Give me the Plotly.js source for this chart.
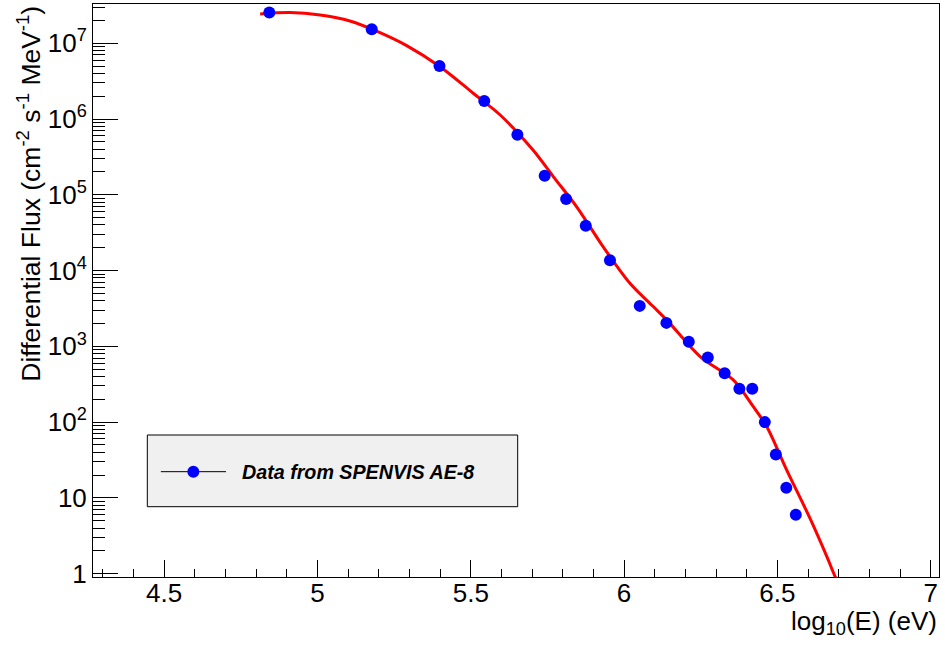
<!DOCTYPE html>
<html>
<head>
<meta charset="utf-8">
<script src="https://cdn.plot.ly/plotly-3.0.1.min.js"></script>
<style>
  html, body { margin: 0; padding: 0; background: #ffffff; }
  #chart { width: 945px; height: 646px; }
</style>
</head>
<body>
<div id="chart"></div>
<script>
// ---- Data ----
const logE = [4.843, 5.177, 5.398, 5.544, 5.652, 5.741, 5.811, 5.875, 5.954, 6.051,
              6.138, 6.211, 6.273, 6.328, 6.376, 6.418, 6.459, 6.495, 6.529, 6.560];
const flux = [2.54e7, 1.53e7, 5.0e6, 1.73e6, 6.2e5, 1.79e5, 8.8e4, 3.9e4, 1.37e4, 3.42e3,
              2.04e3, 1.15e3, 711, 443, 275, 275, 100, 37.4, 13.6, 6.0];

// fitted curve
const fitLogE = [4.813, 4.911, 5.009, 5.106, 5.204, 5.291, 5.400, 5.508, 5.596, 5.703,
                 5.769, 5.846, 5.932, 6.019, 6.095, 6.144, 6.248, 6.356, 6.421, 6.465,
                 6.530, 6.606, 6.661, 6.688, 6.700];
const fitFlux = [2.44e7, 2.54e7, 2.36e7, 1.97e7, 1.38e7, 9.3e6, 4.9e6, 2.19e6, 1.13e6, 3.9e5,
                 1.74e5, 6.9e4, 2.05e4, 6.8e3, 3.35e3, 2.12e3, 733, 361, 161, 87.5,
                 23.5, 5.4, 1.69, 0.92, 0.75];

const yTickVals = [1, 10, 100, 1e3, 1e4, 1e5, 1e6, 1e7];
const yTickText = ["1", "10", "10<sup>2</sup>", "10<sup>3</sup>", "10<sup>4</sup>",
                   "10<sup>5</sup>", "10<sup>6</sup>", "10<sup>7</sup>"];
const legendLabel = "Data from SPENVIS AE-8";

// minor tick positions (2..9 per decade)
const yMinor = [];
for (let k = 0; k <= 7; k++) for (let m = 2; m <= 9; m++) yMinor.push(m * Math.pow(10, k));

const FONT = "Liberation Sans, Arial, Helvetica, sans-serif";

const traces = [
  {
    x: fitLogE, y: fitFlux, type: "scatter", mode: "lines",
    line: { color: "#ff0000", width: 3, shape: "spline", smoothing: 0.9 },
    showlegend: false, hoverinfo: "skip"
  },
  {
    x: logE, y: flux, type: "scatter", mode: "markers",
    marker: { color: "#0000ff", size: 12 },
    name: legendLabel, showlegend: false
  }
];

// legend geometry (paper coords)
const lgX0 = 0.0642, lgX1 = 0.502, lgY0 = 0.1227, lgY1 = 0.2478, lgYm = 0.1838;

const layout = {
  width: 945, height: 646,
  margin: { l: 93, r: 6, t: 4, b: 69 },
  paper_bgcolor: "#ffffff", plot_bgcolor: "#ffffff",
  font: { family: FONT, color: "#000000" },
  showlegend: false,
  xaxis: {
    range: [4.268, 7.027],
    tick0: 4.5, dtick: 0.5,
    ticks: "inside", ticklen: 17, tickwidth: 1, tickcolor: "#000",
    minor: { ticks: "inside", ticklen: 8, dtick: 0.1, tick0: 4.5, tickcolor: "#000", tickwidth: 1, showgrid: false },
    showline: true, linecolor: "#000", linewidth: 1, mirror: true,
    showgrid: false, zeroline: false,
    tickfont: { size: 26, family: FONT },
    ticklabelstandoff: -7
  },
  yaxis: {
    type: "log",
    range: [-0.044, 7.518],
    tickmode: "array", tickvals: yTickVals, ticktext: yTickText,
    ticks: "inside", ticklen: 25, tickwidth: 1, tickcolor: "#000",
    minor: { ticks: "inside", ticklen: 12, tickvals: yMinor, tickcolor: "#000", tickwidth: 1, showgrid: false },
    showline: true, linecolor: "#000", linewidth: 1, mirror: true,
    showgrid: false, zeroline: false,
    tickfont: { size: 26, family: FONT }
  },
  shapes: [
    { type: "rect", xref: "paper", yref: "paper", x0: lgX0, x1: lgX1, y0: lgY0, y1: lgY1,
      fillcolor: "#f0f0f0", line: { color: "#000", width: 1 }, layer: "above" },
    { type: "line", xref: "paper", yref: "paper", x0: 0.0802, x1: 0.1572, y0: lgYm, y1: lgYm,
      line: { color: "#000", width: 1 }, layer: "above" },
    { type: "circle", xref: "paper", yref: "paper", xsizemode: "pixel", ysizemode: "pixel",
      xanchor: 0.1186, yanchor: lgYm, x0: -6, x1: 6, y0: -6, y1: 6,
      fillcolor: "#0000ff", line: { color: "#0000ff", width: 0 }, layer: "above" }
  ],
  annotations: [
    { text: "<b><i>" + legendLabel + "</i></b>", xref: "paper", yref: "paper",
      x: 0.1737, y: lgYm, xanchor: "left", yanchor: "middle", showarrow: false,
      font: { size: 19.7, family: FONT, color: "#000" } },
    { text: "log<sub>10</sub>(E) (eV)", xref: "paper", yref: "paper",
      x: 1.0, y: -0.047, xanchor: "right", yanchor: "top", showarrow: false,
      font: { size: 26, family: FONT, color: "#000" } },
    { text: "Differential Flux (cm<sup>-2</sup> s<sup>-1</sup> MeV<sup>-1</sup>)",
      xref: "paper", yref: "paper", x: -0.076, y: 1.0, xanchor: "center", yanchor: "top",
      textangle: -90, showarrow: false,
      font: { size: 26.5, family: FONT, color: "#000" } }
  ]
};

Plotly.newPlot("chart", traces, layout, { displayModeBar: false, staticPlot: true });
</script>
</body>
</html>
